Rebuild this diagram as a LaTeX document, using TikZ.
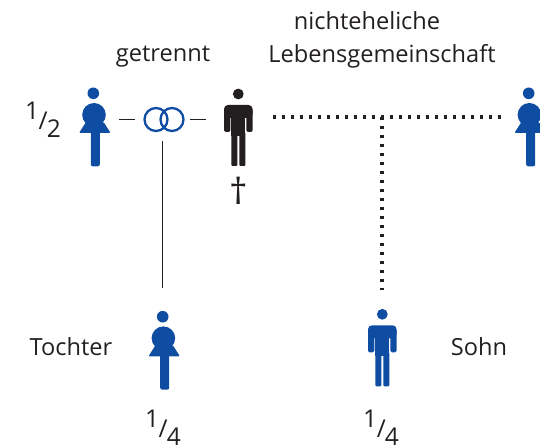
\documentclass[tikz,border=0pt]{standalone}
\usepackage{fontspec}
\setmainfont{Open Sans}
\definecolor{figblue}{HTML}{0F4DA3}
\definecolor{figblack}{HTML}{231F20}
\newcommand{\bruch}[2]{\raisebox{.42em}{#1}\kern-.02em/\kern-.04em\raisebox{-.32em}{#2}}
\tikzset{
  x=1pt,y=-1pt,
  lbl/.style={inner sep=0pt,font=\fontsize{23.6}{28}\selectfont,text=figblack},
  frac/.style={inner sep=0pt,font=\fontsize{24.5}{30}\selectfont,text=figblack},
  cross/.style={inner sep=0pt,font=\fontsize{36}{40}\selectfont,text=figblack},
  anchorbox/.style={inner sep=0pt,minimum width=32pt,minimum height=80pt},
  ringstyle/.style={circle,draw=figblue,line width=2.3pt,minimum size=23pt,inner sep=0pt},
  thinline/.style={draw=figblack,line width=.8pt},
  dotline/.style={draw=figblack,line width=3.4pt,dash pattern=on 3.4pt off 5.6pt},
  woman/.pic={
    \fill[#1] (0,0) circle (5.8);
    \fill[#1] (0.7,21.5) circle (11.8);
    \fill[#1,rounded corners=1pt] (-7.5,29) -- (-14.2,39.6) -- (17.2,39.6) -- (10.5,29) -- cycle;
    \fill[#1,rounded corners=2pt] (-2.5,36) rectangle (6.5,73);
  },
  man/.pic={
    \fill[#1] (0,0) circle (5.4);
    \fill[#1,rounded corners=4pt] (-14.3,11) rectangle (14.3,24);
    \fill[#1,rounded corners=1.5pt] (-14.3,15) rectangle (-8,38);
    \fill[#1,rounded corners=1.5pt] (8,15) rectangle (14.3,38);
    \fill[#1] (-7,13) rectangle (7,42);
    \fill[#1,rounded corners=1pt] (-7,38) rectangle (-1,72);
    \fill[#1,rounded corners=1pt] (1,38) rectangle (7,72);
  },
}
\begin{document}
\begin{tikzpicture}
\useasboundingbox (0,0) rectangle (540,446);
% figures
\pic at (93.3,93.3) {woman=figblue};
\pic at (238.3,94) {man=figblack};
\pic at (528.7,93.3) {woman=figblue};
\pic at (162.7,316.7) {woman=figblue};
\pic at (382.3,314.3) {man=figblue};
% named places of the figures
\node[anchorbox] (mutter) at (94,130) {};
\node[anchorbox] (vater) at (238.3,130) {};
\node[anchorbox] (partnerin) at (529,130) {};
\node[anchorbox] (tochter) at (163,350) {};
\node[anchorbox] (sohn) at (382,350) {};
% rings
\node[ringstyle] (ringa) at (156,119.5) {};
\node[ringstyle] (ringb) at (172,119.5) {};
\coordinate (ringe) at (162.7,141);
\coordinate (kreuzung) at (382,117);
% connectors
\draw[thinline] ([xshift=-24pt]ringa.west) -- ([xshift=-8.5pt]ringa.west);
\draw[thinline] ([xshift=5.5pt]ringb.east) -- ([xshift=21.5pt]ringb.east);
\draw[thinline,shorten >=22pt] (ringe) -- (ringe |- tochter.north);
\draw[dotline,shorten <=18pt,shorten >=12.3pt] (vater.east |- kreuzung) -- (kreuzung) -- (partnerin.west |- kreuzung);
\draw[dotline] (kreuzung) -- ([yshift=20pt]kreuzung |- sohn.north);
% labels
\node[lbl] (n1) at (367,21) {nichteheliche};
\node[lbl] (n2) at (382,56) {Lebensgemeinschaft};
\node[lbl] (n3) at (163,57) {getrennt};
\node[cross] (n4) at (238.5,191) {†};
\node[lbl] (n5) at (71,347) {Tochter};
\node[lbl] (n6) at (479,347) {Sohn};
\node[frac] (f1) at (43,120) {\bruch{1}{2}};
\node[frac] (f2) at (163,428) {\bruch{1}{4}};
\node[frac] (f3) at (381,428) {\bruch{1}{4}};
\end{tikzpicture}
\end{document}
